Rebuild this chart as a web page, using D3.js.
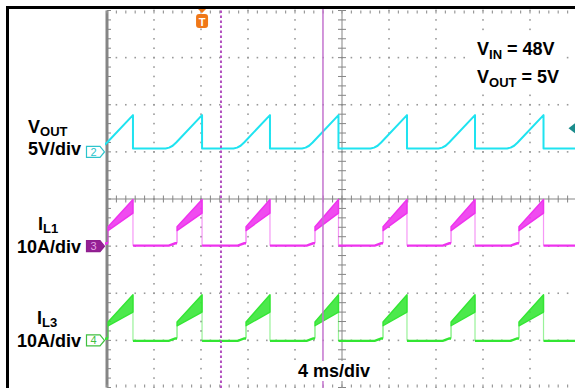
<!DOCTYPE html>
<html>
<head>
<meta charset="utf-8">
<script src="https://cdn.jsdelivr.net/npm/d3@7"></script>
<style>
  html, body { margin: 0; padding: 0; background: #fff; }
  svg { display: block; }
  text { font-family: "Liberation Sans", Arial, sans-serif; font-weight: bold; fill: #000; }
</style>
</head>
<body>
<svg id="scope" width="575" height="388"></svg>
<script>
// ---- acquisition data (time in ms, 4 ms/div) ----
// instant of each switch-off edge (all traces fall here)
const cycleDrop = [2.21, 8.09, 13.87, 19.70, 25.53, 31.32, 37.15];
// instant each inductor current steps up
const cycleStep = [0.09, 5.96, 11.83, 17.70, 23.49, 29.28, 35.06];

// VOUT ramp before each drop: time offset from drop (ms) and level (V)
const voutRampT = [-3.1, -2.8, -2.5, -2.2, 0];
const voutRampV = [0.36, 0.45, 0.65, 1.0, 3.9];
const voutFlat = 0.36;

// inductor current levels (A): [baseline, pre-step bump, step low, step high, peak low, peak high]
const il1Level = [0.1, 0.6, 3.3, 4.1, 7.0, 9.9];
const il3Level = [-0.1, 0.4, 3.1, 3.9, 6.0, 9.7];

// channel setup: [offset in divisions, units per division]
const ch2Setup = [1, 5];
const ch3Setup = [-1, 10];
const ch4Setup = [-3, 10];

// markers
const triggerTime = 8.09;
const triggerLevel = 2.5;           // V on channel 2
const cursorTimes = [9.7, 18.38];   // dotted cursor, solid cursor

// labels
const chLabels = [
  { main: "V", sub: "OUT", scale: "5V/div" },
  { main: "I", sub: "L1", scale: "10A/div" },
  { main: "I", sub: "L3", scale: "10A/div" }
];
const chMarkers = ["2", "3", "4"];
const timebaseLabel = "4 ms/div";

// ---- scales ----
const svg = d3.select("#scope");
const x = d3.scaleLinear().domain([0, 40]).range([107, 577]);
const yDiv = d3.scaleLinear().domain([-4, 4]).range([387.5, 10.5]);
const chan = ([off, per]) => d3.scaleLinear().domain([0, per]).range([yDiv(off), yDiv(off + 1)]);
const yV = chan(ch2Setup), yI1 = chan(ch3Setup), yI3 = chan(ch4Setup);

const col = { v: "#1fe3f0", i1: "#ee32ee", i3: "#33e633", grid: "#9a9a9a", axis: "#858585" };

svg.append("rect").attr("width", 575).attr("height", 388).attr("fill", "#fff");

// outer black frame (top and left edges)
svg.append("rect").attr("x", 6).attr("y", 6).attr("width", 575).attr("height", 3).attr("fill", "#000");
svg.append("rect").attr("x", 6).attr("y", 6).attr("width", 3).attr("height", 388).attr("fill", "#000");

// ---- graticule ----
svg.append("clipPath").attr("id", "gridClip")
  .append("rect").attr("x", 105).attr("y", 9).attr("width", 480).attr("height", 390);
const grid = svg.append("g").attr("clip-path", "url(#gridClip)");

const minorX = d3.range(0, 40.01, 0.8);  // 0.2 div steps in ms
const minorY = d3.range(-4, 4.001, 0.2);
const majorX = d3.range(4, 40, 4).filter(t => t !== 20);
const majorY = d3.range(-3, 4, 1).filter(d => d !== 0);

majorX.forEach(t => {
  grid.selectAll(null).data(minorY).join("rect")
    .attr("x", x(t) - 0.8).attr("y", d => yDiv(d) - 0.8)
    .attr("width", 1.6).attr("height", 1.6).attr("fill", col.grid);
});
majorY.forEach(d0 => {
  grid.selectAll(null).data(minorX).join("rect")
    .attr("x", t => x(t) - 0.8).attr("y", yDiv(d0) - 0.8)
    .attr("width", 1.6).attr("height", 1.6).attr("fill", col.grid);
});

// centre axes with ticks
grid.append("line").attr("x1", x(20)).attr("x2", x(20)).attr("y1", yDiv(4)).attr("y2", yDiv(-4))
  .attr("stroke", col.axis).attr("stroke-width", 1);
grid.selectAll(null).data(minorY).join("line")
  .attr("x1", x(20) - 4).attr("x2", x(20) + 4).attr("y1", d => yDiv(d)).attr("y2", d => yDiv(d))
  .attr("stroke", col.axis).attr("stroke-width", 1);
grid.append("line").attr("x1", x(0)).attr("x2", x(40)).attr("y1", yDiv(0)).attr("y2", yDiv(0))
  .attr("stroke", col.axis).attr("stroke-width", 1);
grid.selectAll(null).data(minorX).join("line")
  .attr("x1", t => x(t)).attr("x2", t => x(t)).attr("y1", yDiv(0) - 3.5).attr("y2", yDiv(0) + 3.5)
  .attr("stroke", col.axis).attr("stroke-width", 1);

// left edge with ticks
grid.append("rect").attr("x", x(0) - 1.5).attr("y", yDiv(4)).attr("width", 3).attr("height", yDiv(-4) - yDiv(4))
  .attr("fill", col.axis);
grid.selectAll(null).data(minorY).join("line")
  .attr("x1", x(0)).attr("x2", x(0) + 4).attr("y1", d => yDiv(d)).attr("y2", d => yDiv(d))
  .attr("stroke", col.axis).attr("stroke-width", 1);
// top and bottom edges with ticks
[[yDiv(4), 3], [yDiv(-4), -3]].forEach(([y0, len]) => {
  grid.selectAll(null).data(minorX).join("line")
    .attr("x1", t => x(t)).attr("x2", t => x(t)).attr("y1", y0).attr("y2", y0 + len)
    .attr("stroke", col.grid).attr("stroke-width", 1.2);
});

// ---- traces ----
const traces = svg.append("g").attr("clip-path", "url(#gridClip)");

// channel 2: output voltage
const voutPts = [[-1, voutFlat]];
cycleDrop.forEach(d => {
  voutRampT.forEach((t, j) => voutPts.push([d + t, voutRampV[j]]));
  voutPts.push([d, voutFlat]);
});
voutPts.push([41, voutFlat]);
traces.append("path")
  .attr("d", d3.line().x(p => x(p[0])).y(p => yV(p[1]))(voutPts))
  .attr("fill", "none").attr("stroke", col.v).attr("stroke-width", 2).attr("stroke-linejoin", "round");

// channels 3 and 4: inductor currents
function inductorTrace(ys, lv, color) {
  const [base, bump, stepLo, stepHi, peakLo, peakHi] = lv;
  const line = d3.line().x(p => x(p[0])).y(p => ys(p[1]));
  const g = traces.append("g");
  let start = -1;
  cycleStep.forEach((s, i) => {
    const d = cycleDrop[i];
    // baseline between switching events
    g.append("path")
      .attr("d", line([[start, base], [s - 0.7, base], [s - 0.15, bump], [s, bump]]))
      .attr("fill", "none").attr("stroke", color).attr("stroke-width", 2.4);
    // fast edges
    g.append("path").attr("d", line([[s, bump], [s, stepLo]]))
      .attr("stroke", color).attr("stroke-opacity", 0.65).attr("stroke-width", 1.3);
    g.append("path").attr("d", line([[d, peakHi], [d, base]]))
      .attr("stroke", color).attr("stroke-opacity", 0.5).attr("stroke-width", 1.2);
    // rising ramp with switching ripple band
    g.append("path")
      .attr("d", line([[s, stepLo], [s, stepHi], [d, peakHi], [d, peakLo]]) + "Z")
      .attr("fill", color).attr("fill-opacity", 0.88)
      .attr("stroke", color).attr("stroke-width", 1.4).attr("stroke-linejoin", "round");
    start = d;
  });
  g.append("path").attr("d", line([[start, base], [41, base]]))
    .attr("fill", "none").attr("stroke", color).attr("stroke-width", 2.4);
}
inductorTrace(yI1, il1Level, col.i1);
inductorTrace(yI3, il3Level, col.i3);

// ---- cursors ----
svg.append("line")
  .attr("x1", x(cursorTimes[0])).attr("x2", x(cursorTimes[0])).attr("y1", yDiv(4)).attr("y2", 388)
  .attr("stroke", "#b350c0").attr("stroke-width", 2).attr("stroke-dasharray", "2.5,2.5");
svg.append("line")
  .attr("x1", x(cursorTimes[1])).attr("x2", x(cursorTimes[1])).attr("y1", 9).attr("y2", 388)
  .attr("stroke", "#c474cf").attr("stroke-width", 1.5);

// trigger position marker
const tx = x(triggerTime);
svg.append("path")
  .attr("d", `M${tx - 4},9 L${tx + 4},9 L${tx},13 Z`).attr("fill", "#f07818");
svg.append("rect").attr("x", tx - 6).attr("y", 14).attr("width", 12).attr("height", 14).attr("rx", 3)
  .attr("fill", "#f07818");
svg.append("text").attr("x", tx).attr("y", 25.5).attr("text-anchor", "middle")
  .style("font-size", "11px").style("fill", "#fff").text("T");

// trigger level marker (channel 2)
const ty = yV(triggerLevel);
svg.append("path")
  .attr("d", `M568.5,${ty} L575,${ty - 5} L575,${ty + 5} Z`).attr("fill", "#1b8c8c");

// ---- channel ground markers ----
const markerStyle = [
  { y: yV(0), stroke: "#2cc4cc", fill: "#fff", text: "#2cc4cc" },
  { y: yI1(0), stroke: "#8e1e8e", fill: "#951f95", text: "#e3a6e3" },
  { y: yI3(0), stroke: "#40c040", fill: "#fff", text: "#40c040" }
];
markerStyle.forEach((m, i) => {
  const y = m.y;
  svg.append("path")
    .attr("d", `M86.5,${y - 5.5} H100 L104.5,${y} L100,${y + 5.5} H86.5 Z`)
    .attr("fill", m.fill).attr("stroke", m.stroke).attr("stroke-width", 1.2);
  svg.append("text").attr("x", 93.5).attr("y", y + 4).attr("text-anchor", "middle")
    .style("font-size", "11px").style("font-weight", "normal").style("fill", m.text).text(chMarkers[i]);
});

// ---- channel labels ----
const labelPos = [[28, 133, 155], [38, 230, 253], [37, 324, 347]];
chLabels.forEach((lab, i) => {
  const [lx, y1, y2] = labelPos[i];
  const t = svg.append("text").attr("x", lx).attr("y", y1).style("font-size", "18px");
  t.append("tspan").text(lab.main);
  t.append("tspan").attr("dy", 2.5).style("font-size", "13px").text(lab.sub);
  svg.append("text").attr("x", 81).attr("y", y2).attr("text-anchor", "end")
    .style("font-size", "18px").text(lab.scale);
});

// ---- operating conditions ----
svg.append("rect").attr("x", 472).attr("y", 37).attr("width", 92).attr("height", 53).attr("fill", "#fff");
const cond = [["V", "IN", " = 48V", 55], ["V", "OUT", " = 5V", 83]];
cond.forEach(([m, s, rest, y]) => {
  const t = svg.append("text").attr("x", 477).attr("y", y).style("font-size", "18px");
  t.append("tspan").text(m);
  t.append("tspan").attr("dy", 4).style("font-size", "13px").text(s);
  t.append("tspan").attr("dy", -4).text(rest);
});

// timebase
svg.append("rect").attr("x", 294).attr("y", 361).attr("width", 82).attr("height", 20).attr("fill", "#fff");
svg.append("text").attr("x", 298).attr("y", 377).style("font-size", "18px").text(timebaseLabel);
</script>
</body>
</html>
